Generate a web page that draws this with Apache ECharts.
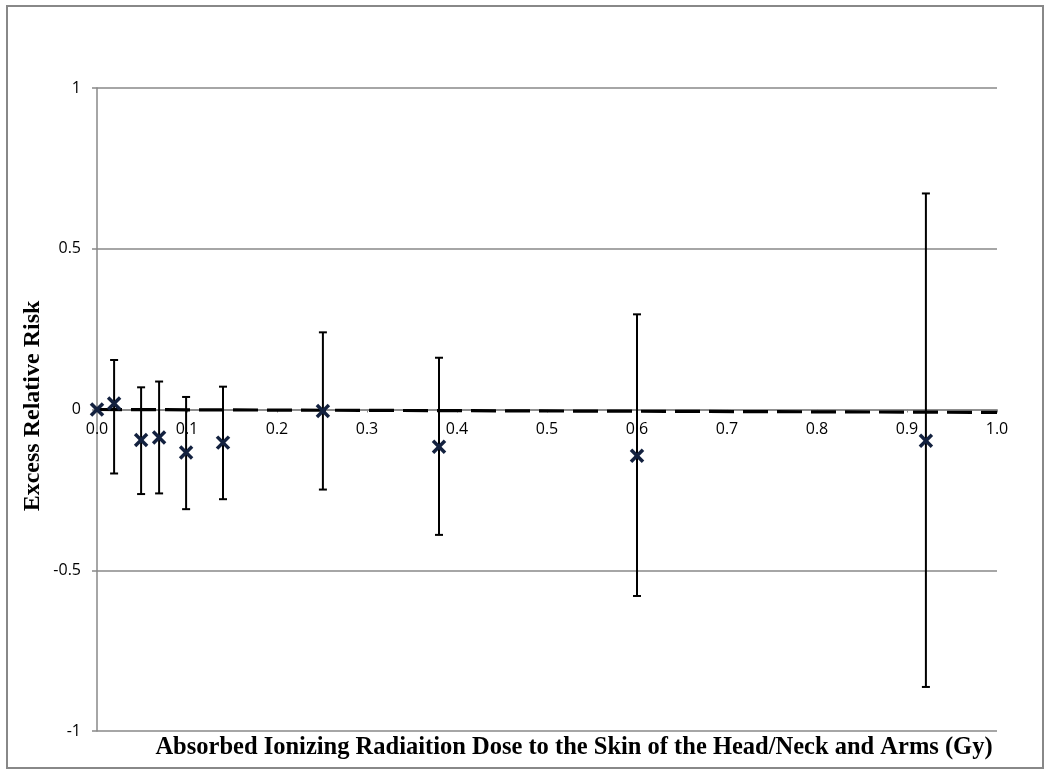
<!DOCTYPE html>
<html>
<head>
<meta charset="utf-8">
<script src="https://cdn.jsdelivr.net/npm/echarts@6/dist/echarts.min.js"></script>
<style>html,body{margin:0;padding:0;background:#fff}#c{width:1050px;height:774px}</style>
</head>
<body>
<div id="c"></div>
<script>
// Data
var doses = [0, 0.019, 0.049, 0.069, 0.099, 0.140, 0.251, 0.380, 0.600, 0.921];
var err   = [0, 0.019, -0.095, -0.087, -0.134, -0.103, -0.005, -0.116, -0.144, -0.097];
var lower = [null, -0.199, -0.263, -0.261, -0.310, -0.279, -0.249, -0.390, -0.580, -0.863];
var upper = [null, 0.154, 0.069, 0.087, 0.039, 0.071, 0.240, 0.161, 0.296, 0.672];
var trendX = [0, 1];
var trendY = [0, -0.009];
var xTitle = 'Absorbed Ionizing Radiaition Dose to the Skin of the Head/Neck and Arms (Gy)';
var yTitle = 'Excess Relative Risk';

var pts = doses.map(function (d, i) { return [d, err[i], lower[i], upper[i]]; });
var trend = trendX.map(function (x, i) { return [x, trendY[i]]; });

var gridTop = 88, gridBottom = 43, H = 774;
var plotH = H - gridTop - gridBottom;

var chart = echarts.init(document.getElementById('c'));
chart.setOption({
  animation: false,
  grid: { left: 97, right: 53, top: gridTop, bottom: gridBottom },
  xAxis: {
    type: 'value', min: 0, max: 1, interval: 0.1,
    position: 'bottom', offset: -plotH / 2,
    axisLine: { onZero: false, lineStyle: { color: '#888', width: 1.5 } },
    axisTick: { show: true, inside: false, length: 3, lineStyle: { color: '#888' } },
    axisLabel: { formatter: function (v) { return v.toFixed(1); }, color: '#000', fontSize: 16, fontFamily: 'Open Sans', margin: 12 },
    splitLine: { show: false }
  },
  yAxis: {
    type: 'value', min: -1, max: 1, interval: 0.5,
    axisLine: { show: true, lineStyle: { color: '#888', width: 1.5 } },
    axisTick: { show: true, length: 5, lineStyle: { color: '#888', width: 1.5 } },
    axisLabel: { color: '#000', fontSize: 16, fontFamily: 'Open Sans', margin: 16 },
    splitLine: { show: true, lineStyle: { color: '#888', width: 1.5 } }
  },
  graphic: [
    { type: 'rect', shape: { x: 7, y: 6, width: 1036, height: 762 }, style: { fill: 'none', stroke: '#888', lineWidth: 2 }, z: 0 },
    { type: 'text', x: 574, y: 748, style: { text: xTitle, font: 'bold 24.5px "Liberation Serif"', fill: '#000', textAlign: 'center', textVerticalAlign: 'middle' } },
    { type: 'text', x: 33, y: 406, rotation: Math.PI / 2, style: { text: yTitle, font: 'bold 24px "Liberation Serif"', fill: '#000', textAlign: 'center', textVerticalAlign: 'middle' } }
  ],
  series: [
    {
      type: 'line', data: trend, symbol: 'none', z: 3,
      lineStyle: { color: '#000', width: 3.2, type: [25, 9] }
    },
    {
      type: 'custom', z: 5,
      data: pts,
      renderItem: function (params, api) {
        var x = api.value(0), y = api.value(1), lo = api.value(2), hi = api.value(3);
        var c = api.coord([x, y]);
        var children = [];
        if (lower[params.dataIndex] !== null) {
          var top = api.coord([x, hi]), bot = api.coord([x, lo]);
          var st = { stroke: '#000', lineWidth: 2 };
          children.push({ type: 'line', shape: { x1: top[0], y1: top[1], x2: bot[0], y2: bot[1] }, style: st });
          children.push({ type: 'line', shape: { x1: top[0] - 4, y1: top[1], x2: top[0] + 4, y2: top[1] }, style: st });
          children.push({ type: 'line', shape: { x1: bot[0] - 4, y1: bot[1], x2: bot[0] + 4, y2: bot[1] }, style: st });
        }
        var m = 6, ms = { stroke: '#13213f', lineWidth: 3.5 };
        children.push({ type: 'line', shape: { x1: c[0] - m, y1: c[1] - m, x2: c[0] + m, y2: c[1] + m }, style: ms });
        children.push({ type: 'line', shape: { x1: c[0] - m, y1: c[1] + m, x2: c[0] + m, y2: c[1] - m }, style: ms });
        return { type: 'group', children: children };
      }
    }
  ]
});
</script>
</body>
</html>
